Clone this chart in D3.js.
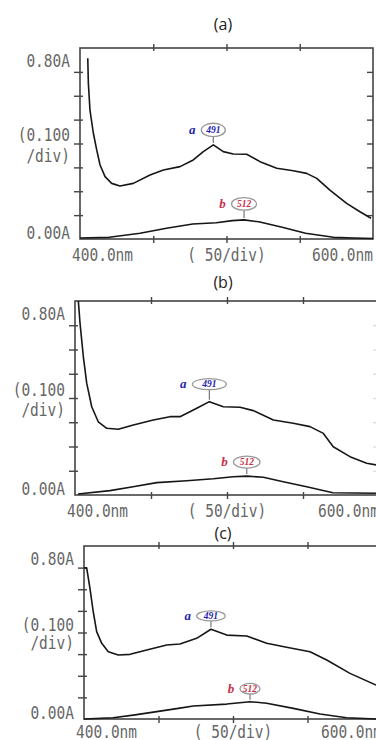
<!DOCTYPE html>
<html>
<head>
<meta charset="utf-8">
<script src="https://cdn.jsdelivr.net/npm/d3@7"></script>
<style>
  html, body { margin: 0; padding: 0; background: #fff; }
  svg { display: block; }
</style>
</head>
<body>
<div id="chart"></div>
<script>
// panel titles, trace names and peak labels
const panelTitles = ['(a)', '(b)', '(c)'];
const traceNames = ['a', 'b'];
const peakLabels = ['491', '512'];

// axis ticks and labels
const xTicks = [450, 500, 550];
const yTicks = [0.1, 0.2, 0.3, 0.4, 0.5, 0.6, 0.7];
const xLabels = ['400.0nm', '( 50/div)', '600.0nm'];
const yLabels = ['0.80A', '(0.100', '/div)', '0.00A'];

// spectra: [wavelength nm, absorbance A]
const panelA_a = [[405.3, 0.757], [405.7, 0.653], [406.8, 0.54], [409.1, 0.444], [411.4, 0.373], [413.7, 0.31], [417.1, 0.261], [421.6, 0.233], [427.3, 0.222], [436.4, 0.233], [447.8, 0.268], [456.9, 0.289], [468.3, 0.303], [477.3, 0.331], [484.2, 0.366], [491, 0.394], [497.8, 0.366], [504.6, 0.356], [513.8, 0.355], [522.9, 0.324], [534.3, 0.296], [545.6, 0.286], [554.7, 0.275], [561.6, 0.254], [570.6, 0.205], [582, 0.149], [591.1, 0.114], [598.6, 0.087]];
const panelA_b = [[400, 0.004], [420, 0.007], [441, 0.024], [459, 0.045], [477, 0.063], [493, 0.068], [504, 0.077], [512, 0.08], [522, 0.072], [538, 0.049], [554, 0.024], [573, 0.007], [587, 0.004], [600, 0.002]];
const panelB_a = [[402.2, 0.8], [403.3, 0.709], [405.5, 0.57], [407.7, 0.461], [411, 0.364], [415.3, 0.302], [420.9, 0.275], [428.5, 0.271], [438.4, 0.289], [451.5, 0.309], [462.5, 0.323], [469.1, 0.323], [480.1, 0.358], [488.4, 0.385], [497.6, 0.364], [508.6, 0.362], [517.3, 0.348], [530.5, 0.309], [543.6, 0.296], [554.6, 0.282], [563.4, 0.254], [569.9, 0.199], [580.9, 0.158], [591.9, 0.131], [598, 0.124]];
const panelB_b = [[402, 0.004], [423, 0.018], [438.2, 0.034], [453.8, 0.051], [473.5, 0.059], [491, 0.067], [504.1, 0.075], [513, 0.078], [523.9, 0.073], [537, 0.055], [552.4, 0.034], [569.7, 0.009], [598, 0.007]];
const panelC_a = [[400, 0.699], [401.8, 0.699], [404, 0.604], [406.2, 0.496], [408.5, 0.404], [411.9, 0.35], [416.3, 0.311], [423, 0.296], [430.9, 0.299], [442.1, 0.319], [455.5, 0.342], [464.4, 0.347], [475.6, 0.373], [485.2, 0.415], [495.8, 0.388], [509.2, 0.384], [522.6, 0.35], [536, 0.332], [551.7, 0.311], [562.9, 0.273], [578.5, 0.211], [596, 0.157]];
const panelC_b = [[400, 0.0], [419.5, 0.006], [433.1, 0.018], [448.8, 0.034], [463.3, 0.049], [473.4, 0.06], [495.8, 0.069], [511.4, 0.08], [522.6, 0.073], [540.5, 0.049], [558.4, 0.023], [576.3, 0.006], [596, 0.0]];

const panelTraces = [[panelA_a, panelA_b], [panelB_a, panelB_b], [panelC_a, panelC_b]];

// page layout of each panel (pixels)
const layout = [
  { l: 80, r: 373, t: 48, b: 239, titleY: 24, rightTick: '#444', rx: [12, 12.5], ry: [6.7, 6.3], gap: [15, 16] },
  { l: 75, r: 379, t: 301, b: 495, titleY: 282, rightTick: '#ddd', rx: [17, 13.3], ry: [5.5, 6], gap: [17.5, 14] },
  { l: 84, r: 382, t: 546, b: 719, titleY: 533, rightTick: '#ddd', rx: [14.3, 10], ry: [5, 5.3], gap: [13.3, 13] },
];

const width = 376;
const height = 740;
const axisColor = '#444';
const labelColor = '#666';
const traceColor = '#161616';
const nameColors = ['#2424b0', '#c8304a'];
const monoFont = '"DejaVu Sans Mono", "Liberation Mono", monospace';
const serifFont = '"Liberation Serif", "DejaVu Serif", serif';

const svg = d3.select('#chart').append('svg')
  .attr('width', width)
  .attr('height', height)
  .attr('viewBox', [0, 0, width, height]);

svg.append('rect').attr('width', width).attr('height', height).attr('fill', '#fff');

layout.forEach((p, pi) => {
  const x = d3.scaleLinear().domain([400, 600]).range([p.l, p.r]);
  const y = d3.scaleLinear().domain([0, 0.8]).range([p.b, p.t]);
  const g = svg.append('g');

  // title
  g.append('text')
    .attr('x', 223)
    .attr('y', p.titleY)
    .attr('dy', '0.35em')
    .attr('text-anchor', 'middle')
    .attr('font-family', '"Open Sans", "Noto Sans", sans-serif')
    .attr('font-size', 16)
    .attr('fill', '#222')
    .text(panelTitles[pi]);

  // frame
  g.append('rect')
    .attr('x', x(400))
    .attr('y', y(0.8))
    .attr('width', x(600) - x(400))
    .attr('height', y(0) - y(0.8))
    .attr('fill', 'none')
    .attr('stroke', axisColor)
    .attr('stroke-width', 1.6);

  // tick marks crossing the frame
  const crossTicks = (sel, color) => sel
    .call(s => s.select('.domain').remove())
    .call(s => s.selectAll('.tick line').attr('stroke', color).attr('stroke-width', 1.4));

  g.append('g')
    .attr('transform', `translate(${x(400)},0)`)
    .call(d3.axisLeft(y).tickValues(yTicks).tickSize(6).tickFormat(''))
    .call(s => crossTicks(s, axisColor))
    .call(s => s.selectAll('.tick line').attr('x1', 3));

  g.append('g')
    .attr('transform', `translate(${x(600)},0)`)
    .call(d3.axisRight(y).tickValues(yTicks).tickSize(3).tickFormat(''))
    .call(s => crossTicks(s, p.rightTick))
    .call(s => s.selectAll('.tick line').attr('x1', -6).attr('x2', 0));

  g.append('g')
    .attr('transform', `translate(0,${y(0.8)})`)
    .call(d3.axisTop(x).tickValues(xTicks).tickSize(4).tickFormat(''))
    .call(s => crossTicks(s, axisColor))
    .call(s => s.selectAll('.tick line').attr('y1', 3));

  g.append('g')
    .attr('transform', `translate(0,${y(0)})`)
    .call(d3.axisBottom(x).tickValues(xTicks).tickSize(4).tickFormat(''))
    .call(s => crossTicks(s, axisColor))
    .call(s => s.selectAll('.tick line').attr('y1', -3));

  // printer-style labels
  const monoText = (tx, ty, anchor, str) => g.append('text')
    .attr('transform', `translate(${tx},${ty}) scale(1,1.18)`)
    .attr('dy', '0.36em')
    .attr('text-anchor', anchor)
    .attr('font-family', monoFont)
    .attr('font-size', 14.5)
    .attr('fill', labelColor)
    .style('white-space', 'pre')
    .text(str);

  monoText(x(400) - 10, y(0.8) + 13, 'end', yLabels[0]);
  monoText(x(400) - 10, y(0.435), 'end', yLabels[1]);
  monoText(x(400) - 10, y(0.35), 'end', yLabels[2]);
  monoText(x(400) - 10, y(0) - 6, 'end', yLabels[3]);
  const xLabY = y(0) + (pi === 2 ? 13 : 16);
  monoText(x(400) - 8, xLabY, 'start', xLabels[0]);
  monoText(x(500), xLabY, 'middle', xLabels[1]);
  monoText(x(600), xLabY, 'end', xLabels[2]);

  // traces
  const line = d3.line().x(d => x(d[0])).y(d => y(d[1]));
  panelTraces[pi].forEach((trace, ti) => {
    g.append('path')
      .datum(trace)
      .attr('d', line)
      .attr('fill', 'none')
      .attr('stroke', traceColor)
      .attr('stroke-width', 1.6)
      .attr('stroke-linejoin', 'round');

    // peak annotation: highest point near the labelled wavelength
    const near = trace.filter(d => Math.abs(d[0] - +peakLabels[ti]) < 20);
    const peak = near.reduce((m, d) => (d[1] > m[1] ? d : m));
    const cx = x(peak[0]);
    const cy = y(peak[1]) - p.gap[ti];
    g.append('line')
      .attr('x1', cx).attr('x2', cx)
      .attr('y1', cy + p.ry[ti]).attr('y2', y(peak[1]) - 2)
      .attr('stroke', '#777')
      .attr('stroke-width', 1.2);
    g.append('ellipse')
      .attr('cx', cx).attr('cy', cy)
      .attr('rx', p.rx[ti]).attr('ry', p.ry[ti])
      .attr('fill', '#fff')
      .attr('stroke', '#999')
      .attr('stroke-width', 1.3);
    g.append('text')
      .attr('x', cx).attr('y', cy)
      .attr('dy', '0.35em')
      .attr('text-anchor', 'middle')
      .attr('font-family', serifFont)
      .attr('font-style', 'italic')
      .attr('font-weight', 'bold')
      .attr('font-size', 9.5)
      .attr('fill', nameColors[ti])
      .text(peakLabels[ti]);
    g.append('text')
      .attr('x', cx - p.rx[ti] - 9).attr('y', cy)
      .attr('dy', '0.3em')
      .attr('text-anchor', 'middle')
      .attr('font-family', serifFont)
      .attr('font-style', 'italic')
      .attr('font-weight', 'bold')
      .attr('font-size', 13)
      .attr('fill', nameColors[ti])
      .text(traceNames[ti]);
  });
});
</script>
</body>
</html>
